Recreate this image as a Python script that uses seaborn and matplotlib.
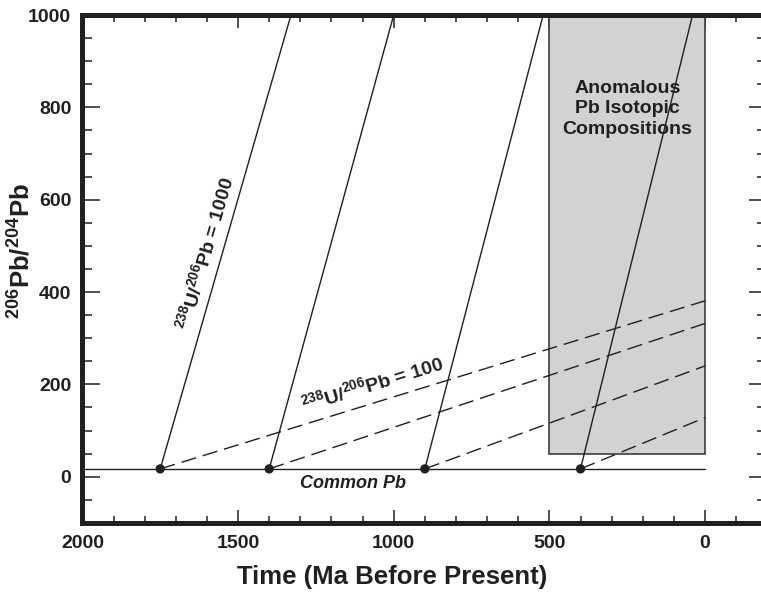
import numpy as np
import pandas as pd
import matplotlib
matplotlib.use("Agg")
import matplotlib.pyplot as plt
from matplotlib.patches import Rectangle
from matplotlib.ticker import MultipleLocator
import seaborn as sns

# ---- data ----
common_pb = 17                                 # 206Pb/204Pb of common lead
start_ages = [1750, 1400, 900, 400]            # Ma, points on common Pb line
solid_top_x = [1330, 1000, 520, 40]            # where 238U/206Pb=1000 lines reach 1000
solid_top_y = [1000, 1000, 1000, 1000]
dashed_end_x = [0, 0, 0, 0]                     # 238U/206Pb=100 lines end at present
dashed_end_y = [381, 332, 240, 128]
common_x = [2000, 0]
box_x = [500, 0]                                # anomalous region (Ma)
box_y = [50, 1000]
x_ticks = [2000, 1500, 1000, 500, 0]
y_ticks = [0, 200, 400, 600, 800, 1000]

sns.set_theme(style="ticks")
plt.rcParams['font.family'] = ['Liberation Sans', 'DejaVu Sans']
plt.rcParams['mathtext.fontset'] = 'custom'
plt.rcParams['mathtext.rm'] = 'Liberation Sans:bold'
plt.rcParams['mathtext.default'] = 'rm'

ink = "#231f20"
fig = plt.figure(figsize=(7.61, 5.94), dpi=100)
ax = fig.add_axes([82.4/761, 1-522.9/594, 684.9/761, 507.9/594])
ax.set_xlim(2000, -200)
ax.set_ylim(-100, 1000)

# anomalous box
ax.add_patch(Rectangle((box_x[1], box_y[0]), box_x[0]-box_x[1], box_y[1]-box_y[0],
                       facecolor="#d1d2d4", edgecolor="#3c3c3c", linewidth=1.2, zorder=1))
ax.text(np.mean(box_x), 797, "Anomalous\nPb Isotopic\nCompositions", ha="center", va="center",
        fontsize=14, fontweight="bold", color=ink, linespacing=1.28, zorder=2)

# common Pb line
sns.lineplot(x=common_x, y=[common_pb, common_pb], ax=ax, color=ink, lw=1.0, zorder=3)

for i, t in enumerate(start_ages):
    sns.lineplot(x=[t, solid_top_x[i]], y=[common_pb, solid_top_y[i]], ax=ax, sort=False,
                 color=ink, lw=1.0, zorder=3)
    sns.lineplot(x=[t, dashed_end_x[i]], y=[common_pb, dashed_end_y[i]], ax=ax, sort=False,
                 color=ink, lw=1.0, linestyle=(0, (11, 5)), zorder=3)

sns.scatterplot(x=start_ages, y=[common_pb]*len(start_ages), ax=ax, color=ink,
                s=45, edgecolor="none", zorder=4)

ax.text(1606, 484, r"$^{238}$U/$^{206}$Pb = 1000", rotation=74, rotation_mode="anchor",
        ha="center", va="center", fontsize=14, fontweight="bold", color=ink)
ax.text(1068, 202, r"$^{238}$U/$^{206}$Pb = 100", rotation=17.1, rotation_mode="anchor",
        ha="center", va="center", fontsize=14, fontweight="bold", color=ink)
ax.text(1131, -15, "Common Pb", ha="center", va="center", fontsize=13,
        fontweight="bold", fontstyle="italic", color=ink)

# axes styling
for s in ax.spines.values():
    s.set_linewidth(3.6)
    s.set_color(ink)
ax.spines["right"].set_visible(False)
ax.set_xticks(x_ticks)
ax.set_yticks(y_ticks)
ax.xaxis.set_minor_locator(MultipleLocator(100))
ax.yaxis.set_minor_locator(MultipleLocator(50))
ax.tick_params(axis="both", which="both", direction="in", top=True, right=True,
               color=ink, width=1.1)
ax.tick_params(axis="x", which="major", length=9.5, pad=9)
ax.tick_params(axis="x", which="minor", length=5)
ax.tick_params(axis="y", which="major", length=13, pad=8)
ax.tick_params(axis="y", which="minor", length=7)
for lab in ax.get_xticklabels() + ax.get_yticklabels():
    lab.set_fontweight("bold")
    lab.set_fontsize(14)
    lab.set_color(ink)
ax.set_xlabel("")
ax.set_ylabel("")
fig.text(392.5/761, 1-577/594, "Time (Ma Before Present)", ha="center", va="center",
         fontsize=18.5, fontweight="bold", color=ink)
fig.text(21.7/761, 1-251/594, r"$^{206}$Pb/$^{204}$Pb", ha="center", va="center",
         rotation=90, fontsize=18.5, fontweight="bold", color=ink)

fig.savefig("out.png", dpi=100)
